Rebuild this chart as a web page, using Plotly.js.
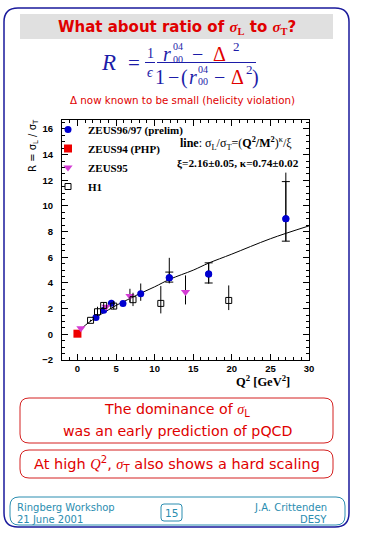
<!DOCTYPE html>
<html>
<head>
<meta charset="utf-8">
<script src="https://cdn.plot.ly/plotly-3.0.1.min.js"></script>
<style>
html,body{margin:0;padding:0;background:#fff;}
#chart{width:365px;height:535px;}
</style>
</head>
<body>
<div id="chart"></div>
<script>
// ---------------- DATA ----------------
// ZEUS 96/97 (prelim)
const zeus9697_q2    = [2.4, 3.4, 4.4, 5.9, 8.2, 11.9, 17.0, 27.0];
const zeus9697_R     = [1.32, 1.87, 2.43, 2.41, 3.16, 4.41, 4.70, 9.0];
const zeus9697_errUp = [0.12, 0.15, 0.25, 0.12, 0.80, 1.55, 0.87, 3.60];
const zeus9697_errDn = [0.12, 0.15, 0.20, 0.12, 0.55, 0.44, 0.76, 1.74];
// inner (statistical) error ticks on the high-Q2 ZEUS points
const zeus9697stat_q2    = [11.9, 17.0, 27.0];
const zeus9697stat_R     = [4.41, 4.70, 9.0];
const zeus9697stat_errUp = [0.44, 0.87, 2.90];
const zeus9697stat_errDn = [0.34, 0.70, 1.74];
// ZEUS 94 (PHP)
const zeus94_q2 = [0.0];
const zeus94_R  = [0.05];
// ZEUS 95
const zeus95_q2    = [0.45, 3.7, 6.8, 14.0];
const zeus95_R     = [0.47, 2.15, 2.98, 3.29];
const zeus95_errUp = [0.08, 0.12, 0.57, 1.30];
const zeus95_errDn = [0.08, 0.12, 0.50, 0.96];
// H1
const h1_q2    = [1.7, 2.6, 3.4, 4.7, 7.2, 10.8, 19.6];
const h1_R     = [1.09, 1.76, 2.25, 2.20, 2.70, 2.41, 2.64];
const h1_errUp = [0.05, 0.39, 0.25, 0.40, 0.54, 1.35, 1.17];
const h1_errDn = [0.05, 0.34, 0.30, 0.25, 0.50, 0.78, 0.75];
// fitted line, points
const fit_q2 = [0.4, 1, 2, 3, 4, 5, 6, 8, 10, 12, 15, 17, 20, 25, 30];
const fit_R  = [0.35, 0.70, 1.15, 1.55, 1.90, 2.25, 2.55, 3.15, 3.70, 4.30, 5.00, 5.55, 6.25, 7.45, 8.45];
// axes
const xRange = [-2, 30];
const yRange = [-2, 16.7];
const xTickVals = [0, 5, 10, 15, 20, 25, 30];
const yTickVals = [-2, 0, 2, 4, 6, 8, 10, 12, 14, 16];
const legendNames = ['ZEUS96/97 (prelim)', 'ZEUS94 (PHP)', 'ZEUS95', 'H1'];

// ---------------- LAYOUT HELPERS ----------------
const W = 365, H = 535;
const M = {l: 62, r: 56, t: 120, b: 175};
const PW = W - M.l - M.r, PH = H - M.t - M.b;
const px = x => (x - M.l) / PW;
const py = y => (H - M.b - y) / PH;

function rrect(x0, y0, x1, y1, r, color, width, fill) {
  const p = (x, y) => px(x) + ',' + py(y);
  const path = 'M ' + p(x0 + r, y0) + ' L ' + p(x1 - r, y0) + ' Q ' + p(x1, y0) + ' ' + p(x1, y0 + r) +
    ' L ' + p(x1, y1 - r) + ' Q ' + p(x1, y1) + ' ' + p(x1 - r, y1) +
    ' L ' + p(x0 + r, y1) + ' Q ' + p(x0, y1) + ' ' + p(x0, y1 - r) +
    ' L ' + p(x0, y0 + r) + ' Q ' + p(x0, y0) + ' ' + p(x0 + r, y0) + ' Z';
  return {type: 'path', xref: 'paper', yref: 'paper', path: path,
          line: {color: color, width: width}, fillcolor: fill || 'rgba(0,0,0,0)', layer: 'below'};
}
function ann(text, x, y, font, xanchor, extra) {
  return Object.assign({text: text, xref: 'paper', yref: 'paper', x: px(x), y: py(y),
    xanchor: xanchor || 'center', yanchor: 'middle', showarrow: false, font: font,
    borderpad: 0}, extra || {});
}
function hline(x0, x1, y, color) {
  return {type: 'line', xref: 'paper', yref: 'paper', x0: px(x0), x1: px(x1), y0: py(y), y1: py(y),
          line: {color: color, width: 1}};
}

const RED = '#e00000';
const BLUE = '#1c1ca8';
const TEAL = '#2a8db0';
const SANS = 'DejaVu Sans, sans-serif';
const SERIF = 'Liberation Serif, serif';
const sig = '<span style="font-family:Liberation Serif"><i>σ</i></span>';

// ---------------- TRACES ----------------
const traces = [
  {x: fit_q2, y: fit_R, mode: 'lines', line: {color: '#000', width: 1, shape: 'spline'},
   showlegend: false, hoverinfo: 'skip'},
  {x: zeus9697_q2, y: zeus9697_R, mode: 'markers', name: legendNames[0],
   marker: {symbol: 'circle', size: 7, color: '#0000d0'},
   error_y: {type: 'data', symmetric: false, array: zeus9697_errUp, arrayminus: zeus9697_errDn,
             color: '#000', thickness: 1, width: 0}},
  {x: zeus94_q2, y: zeus94_R, mode: 'markers', name: legendNames[1],
   marker: {symbol: 'square', size: 8, color: '#ee0000'}},
  {x: zeus95_q2, y: zeus95_R, mode: 'markers', name: legendNames[2],
   marker: {symbol: 'triangle-down', size: 8, color: '#d43cd4'},
   error_y: {type: 'data', symmetric: false, array: zeus95_errUp, arrayminus: zeus95_errDn,
             color: '#000', thickness: 1, width: 0}},
  {x: h1_q2, y: h1_R, mode: 'markers', name: legendNames[3],
   marker: {symbol: 'square-open', size: 6, color: '#000', line: {width: 1}},
   error_y: {type: 'data', symmetric: false, array: h1_errUp, arrayminus: h1_errDn,
             color: '#000', thickness: 1, width: 0}},
  {x: zeus9697stat_q2, y: zeus9697stat_R, mode: 'markers', showlegend: false, hoverinfo: 'skip',
   marker: {size: 7, color: '#0000d0'},
   error_y: {type: 'data', symmetric: false, array: zeus9697stat_errUp, arrayminus: zeus9697stat_errDn,
             color: '#000', thickness: 1, width: 4}}
];

// ---------------- SHAPES ----------------
const shapes = [
  rrect(4, 8, 349, 527, 14, '#1a1a9c', 1.5),
  {type: 'rect', xref: 'paper', yref: 'paper', x0: px(20), x1: px(333), y0: py(14), y1: py(39),
   fillcolor: '#e0e0e0', line: {width: 0}, layer: 'below'},
  hline(145, 155, 62.5, BLUE),
  hline(157, 256, 62.5, BLUE),
  rrect(20, 398, 333, 443, 9, '#d42020', 1),
  rrect(20, 450, 333, 478, 9, '#d42020', 1),
  rrect(10, 497, 345, 525, 9, TEAL, 1),
  rrect(161, 504, 182, 521, 3, TEAL, 1)
];

// ---------------- ANNOTATIONS ----------------
const fS = (size, color, extra) => Object.assign({family: SANS, size: size, color: color}, extra || {});
const fR = (size, color, extra) => Object.assign({family: SERIF, size: size, color: color}, extra || {});

// formula pieces: [text, centre x, centre y, size, colour]
const formulaPieces = [
  ['<i>R</i>', 108, 63, 23, BLUE],
  ['=', 134, 63, 21, BLUE],
  ['1', 150, 53, 14, BLUE],
  ['<i>ϵ</i>', 150, 72, 14, BLUE],
  // numerator
  ['<i>r</i>', 166.5, 54, 20, BLUE],
  ['04', 177.5, 46.5, 10, BLUE],
  ['00', 177.5, 59, 10, BLUE],
  ['−', 197, 54, 20, BLUE],
  ['Δ', 219, 54, 20, RED],
  ['2', 236, 46, 13, BLUE],
  // denominator
  ['1', 160, 77, 20, BLUE],
  ['−', 173, 77, 20, BLUE],
  ['(', 184.5, 77, 20, BLUE],
  ['<i>r</i>', 192.5, 77, 20, BLUE],
  ['04', 203, 69.5, 10, BLUE],
  ['00', 203, 82, 10, BLUE],
  ['−', 219.5, 77, 20, BLUE],
  ['Δ', 237, 77, 20, RED],
  ['2', 249, 69, 13, BLUE],
  [')', 255, 77, 20, BLUE]
];

const annotations = [
  ann('<b>What about ratio of ' + sig + '<sub><span style="font-family:Liberation Serif">L</span></sub> to ' +
      sig + '<sub><span style="font-family:Liberation Serif">T</span></sub>?</b>', 177, 27, fS(15, RED)),
  ann('Δ now known to be small (helicity violation)', 182, 100, fS(10.3, RED)),
  // axis titles
  ann('R = σ<sub>L</sub> / σ<sub>T</sub>', 33, 146, fS(10, '#000'), 'center', {textangle: -90}),
  ann('<b>Q<sup>2</sup> [GeV<sup>2</sup>]</b>', 263, 381, fR(12.5, '#000')),
  // fit label
  ann('<b>line</b>: σ<sub>L</sub>/σ<sub>T</sub>=(<b>Q<sup>2</sup>/M<sup>2</sup></b>)<sup>κ</sup>/ξ', 236, 143, fR(12, '#000')),
  ann('<b>ξ=2.16±0.05, κ=0.74±0.02</b>', 238, 163, fR(11.3, '#000')),
  // bottom boxes
  ann('The dominance of ' + sig + '<sub>L</sub>', 177, 410, fS(14.2, RED)),
  ann('was an early prediction of pQCD', 177, 431, fS(14.2, RED)),
  ann('At high <span style="font-family:Liberation Serif"><i>Q</i></span><sup>2</sup>, ' + sig + '<sub>T</sub> also shows a hard scaling', 177, 464, fS(14.5, RED)),
  // footer
  ann('Ringberg Workshop', 16, 507, fS(10, TEAL), 'left'),
  ann('21 June 2001', 16, 519, fS(10, TEAL), 'left'),
  ann('15', 171.5, 512.5, fS(10.5, TEAL)),
  ann('J.A. Crittenden', 328, 507, fS(10, TEAL), 'right'),
  ann('DESY', 328, 519, fS(10, TEAL), 'right')
].concat(formulaPieces.map(p => ann(p[0], p[1], p[2], fR(p[3], p[4]))));

const axisCommon = {
  showline: true, linecolor: '#000', linewidth: 1, mirror: 'allticks',
  ticks: 'inside', ticklen: 6, tickwidth: 1, tickcolor: '#000',
  showgrid: false, zeroline: false,
  tickfont: {family: 'Liberation Sans, sans-serif', size: 9.5, color: '#000', weight: 'bold'}
};

const layout = {
  width: W, height: H,
  margin: {l: M.l, r: M.r, t: M.t, b: M.b, pad: 0},
  paper_bgcolor: '#fff', plot_bgcolor: 'rgba(0,0,0,0)',
  showlegend: true,
  legend: {x: px(48), y: py(115), xanchor: 'left', yanchor: 'top', bgcolor: 'rgba(0,0,0,0)',
           font: {family: SERIF, size: 11, color: '#000', weight: 'bold'}, tracegroupgap: 0},
  xaxis: Object.assign({}, axisCommon, {range: xRange, tickvals: xTickVals, ticktext: xTickVals.map(String),
          minor: {dtick: 1, tick0: 0, ticks: 'inside', ticklen: 3, tickcolor: '#000'}}),
  yaxis: Object.assign({}, axisCommon, {range: yRange, tickvals: yTickVals, ticktext: yTickVals.map(v => v < 0 ? '−' + (-v) : String(v)),
          ticklabelstandoff: 6,
          minor: {dtick: 0.5, tick0: 0, ticks: 'inside', ticklen: 3, tickcolor: '#000'}}),
  shapes: shapes,
  annotations: annotations
};

Plotly.newPlot('chart', traces, layout, {staticPlot: true, displayModeBar: false});
</script>
</body>
</html>
